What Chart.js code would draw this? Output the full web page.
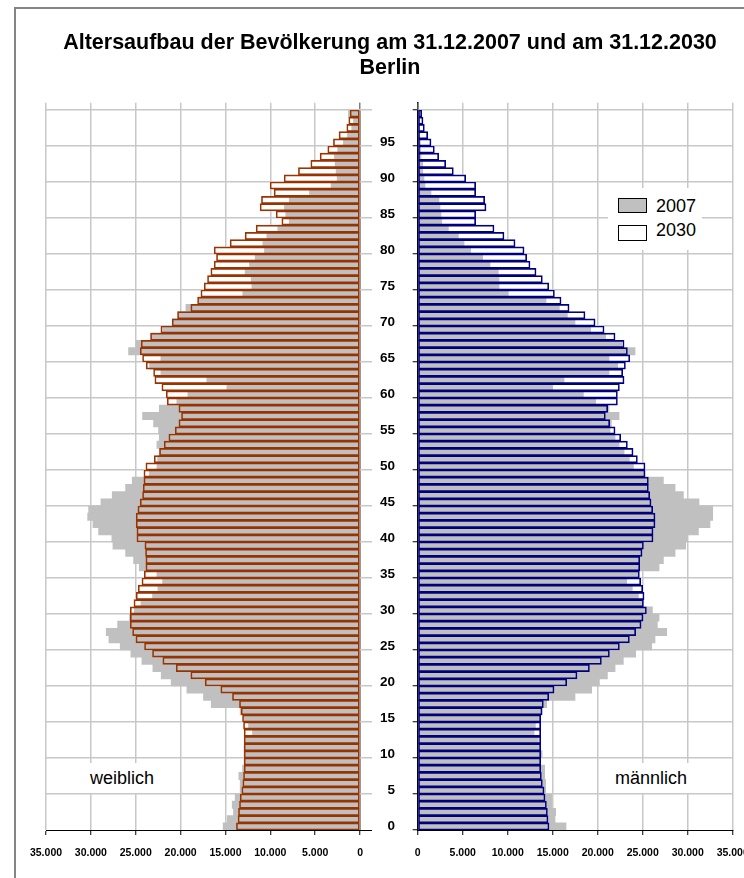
<!DOCTYPE html>
<html><head><meta charset="utf-8">
<script src="https://cdn.jsdelivr.net/npm/chart.js@4"></script>
<style>
html,body{margin:0;padding:0;background:#fff;overflow:hidden;width:744px;height:878px;}
body{position:relative;font-family:"Liberation Sans",Arial,sans-serif;color:#000;}
#frame{position:absolute;left:14px;top:7px;width:800px;height:900px;border-left:2px solid #858585;border-top:2px solid #858585;}
.title{position:absolute;left:40px;width:700px;text-align:center;font-weight:bold;font-size:21.5px;line-height:25px;white-space:nowrap;}
canvas{position:absolute;top:0;}
#cl{left:0;}
#cr{left:372px;}
#legend{position:absolute;left:608px;top:188px;width:94px;height:62px;background:#fff;}
.lbox{position:absolute;left:618px;width:27px;border:1px solid #000;}
.ltxt{position:absolute;left:656px;font-size:18px;line-height:18px;}
.side{position:absolute;top:763px;background:#fff;padding:6px 4px;font-size:18px;line-height:18px;white-space:nowrap;}
</style></head>
<body>
<div id="frame"></div>
<canvas id="cl" width="372" height="878"></canvas>
<canvas id="cr" width="400" height="878"></canvas>
<div class="title" style="top:30px">Altersaufbau der Bevölkerung am 31.12.2007 und am 31.12.2030</div>
<div class="title" style="top:55px">Berlin</div>
<div id="legend"></div>
<div class="lbox" style="top:198px;height:13px;background:#C0C0C0"></div>
<div class="ltxt" style="top:196.5px">2007</div>
<div class="lbox" style="top:225px;height:14px;background:#FFFFFF"></div>
<div class="ltxt" style="top:220.5px">2030</div>
<div class="side" style="left:86px">weiblich</div>
<div class="side" style="left:611px">männlich</div>
<script>
// Altersjahre 0 .. 100 (Kategorien)
const ages = Array.from({length: 101}, (_, i) => String(i));
// beschriftete Altersjahre
const ageTickLabels = ['0','5','10','15','20','25','30','35','40','45','50','55','60','65','70','75','80','85','90','95'];
// Werte-Achse
const valueTicks = [0, 5000, 10000, 15000, 20000, 25000, 30000, 35000];

// weiblich, Alter 0..100
const female2007 = [15260,14810,14110,14250,13920,13360,13360,13510,13100,12920,
  12920,12920,12770,11990,12430,12920,13360,16590,17450,19300,
  21050,22160,23090,24310,25540,26730,27990,28290,27020,25690,
  25170,24420,23130,22530,22010,22640,24610,25240,26130,27540,
  27660,29140,29770,30360,30250,28880,27620,26130,25390,23500,
  22640,22570,22350,22640,22380,22460,23010,24240,22380,20420,
  19190,14850,17080,22200,23460,22200,25800,24950,23300,21980,
  20900,20300,19410,18000,13070,12060,12140,12810,12320,11690,
  10650,10840,10390,9170,7900,8280,8430,7900,5640,3230,
  2560,2670,2780,2860,2490,1860,1410,930,740,1300,
  0];
const female2030 = [13780,13600,13550,13440,13360,13180,13070,12990,12920,12920,
  12920,12920,12920,12920,12990,13100,13250,13440,14220,15520,
  17260,18860,20490,21980,23130,24020,24980,25350,25610,25610,
  25610,25200,24950,24720,24310,24050,23870,23870,23910,23980,
  24870,24870,24950,24950,24760,24500,24240,24170,24090,24090,
  23870,22940,22350,21830,21310,20600,20190,19900,20190,21490,
  21600,22090,22870,23010,23830,24240,24500,24390,23350,22200,
  20940,20340,18860,18110,17740,17370,17000,16630,16260,16000,
  16260,14480,12810,11580,8720,9350,11140,10990,9580,10020,
  8460,6870,5490,4450,3600,2970,2340,1480,1260,1110,
  0];
// männlich, Alter 0..100
const male2007 = [16480,15260,15330,14890,14890,14220,14220,14110,14110,13670,
  13820,13670,13410,12930,13080,13670,13820,14330,17480,19330,
  20190,21080,21930,22850,24220,26000,26370,27670,26630,26820,
  26080,25080,24520,23850,23220,24500,26820,27300,28600,29780,
  30000,31190,32480,32780,32780,31260,29520,28600,27300,25260,
  23970,23520,22930,22370,21930,21370,21520,22370,21260,19780,
  18410,15000,16260,21260,22220,21260,24150,22670,20890,19220,
  17480,16630,15740,14260,10070,9040,9040,8960,8040,7220,
  5890,5150,4520,3410,2670,2590,2480,2370,1480,810,
  700,560,560,370,330,300,200,150,100,150,
  0];
const male2030 = [14590,14480,14410,14300,14150,14040,13850,13740,13670,13670,
  13670,13670,13670,13670,13670,13670,13820,13960,14560,15150,
  16560,17700,19080,20410,21300,22410,23520,24220,24820,25040,
  25410,25080,25150,25000,24780,24630,24670,24670,24930,25080,
  26150,26150,26370,26370,26110,25930,25780,25630,25630,25260,
  25260,24410,23930,23300,22560,21930,21330,20850,21110,22190,
  22190,22410,22930,22780,23080,23560,23300,22930,21930,20710,
  19710,18590,16820,15930,15190,14560,13850,13150,12480,12110,
  11820,10820,9590,8480,6440,6440,7590,7440,6440,6440,
  5330,3960,3110,2330,1850,1480,1110,740,590,440,
  0];

const FONT = '"Liberation Sans", Arial, sans-serif';
const GRID = '#C8C8C8';
const fmt = v => String(v).replace(/\B(?=(\d{3})+(?!\d))/g, '.');

function makeChart(id, d2007, d2030, color, isLeft) {
  return new Chart(document.getElementById(id), {
    type: 'bar',
    data: {
      labels: ages,
      datasets: [
        {label: '2030', data: d2030, backgroundColor: 'rgba(255,255,255,0)', borderColor: color, borderWidth: 1, borderSkipped: false, order: 0},
        {label: '2007', data: d2007, backgroundColor: '#C0C0C0', borderWidth: 0, order: 1},
        {label: '2030 ', data: d2030, backgroundColor: '#FFFFFF', borderWidth: 0, order: 2}
      ]
    },
    options: {
      indexAxis: 'y',
      responsive: false,
      animation: false,
      devicePixelRatio: 1,
      datasets: {bar: {grouped: false, barPercentage: 1, categoryPercentage: 1}},
      plugins: {legend: {display: false}, tooltip: {enabled: false}, title: {display: false}},
      layout: {padding: {left: isLeft ? 46 : 0, right: isLeft ? 0 : 39.3, top: 102.8, bottom: 0}},
      scales: {
        x: {
          type: 'linear',
          reverse: isLeft,
          min: isLeft ? -1330 : 0,
          max: 35000,
          afterBuildTicks: s => { s.ticks = valueTicks.map(v => ({value: v})); },
          afterFit: s => { s.height = 48; },
          border: {display: true, color: '#000', width: 1},
          grid: {
            color: c => (c.tick && c.tick.value === 0) ? (isLeft ? '#303030' : 'rgba(0,0,0,0)') : GRID,
            lineWidth: 1.5,
            drawTicks: true, tickLength: 5, tickColor: '#000', tickWidth: 1
          },
          ticks: {
            callback: v => fmt(v),
            font: {family: FONT, size: 10.5, weight: 'bold'},
            color: '#000', padding: 11.7, maxRotation: 0, autoSkip: false
          }
        },
        y: {
          type: 'category',
          reverse: true,
          position: isLeft ? 'right' : 'left',
          offset: true,
          afterFit: s => { s.width = isLeft ? 0 : 45.7; },
          border: {display: !isLeft, color: '#000', width: 1.5},
          grid: {
            offset: true,
            color: c => (c.index !== undefined && c.index % 5 === 0 && c.index > 0) ? GRID : 'rgba(0,0,0,0)',
            lineWidth: 1.5,
            drawTicks: !isLeft, tickLength: 5, tickWidth: 1,
            tickColor: c => (c.index !== undefined && c.index % 5 === 0) ? '#000' : 'rgba(0,0,0,0)'
          },
          ticks: {
            display: !isLeft,
            autoSkip: false,
            padding: 17.7,
            callback: (v, i) => ageTickLabels.includes(ages[i]) ? ages[i] : '',
            font: {family: FONT, size: 13.5, weight: 'bold'},
            color: '#000'
          }
        }
      }
    }
  });
}

makeChart('cl', female2007, female2030, '#993300', true);
makeChart('cr', male2007, male2030, '#000080', false);
</script>
</body></html>
